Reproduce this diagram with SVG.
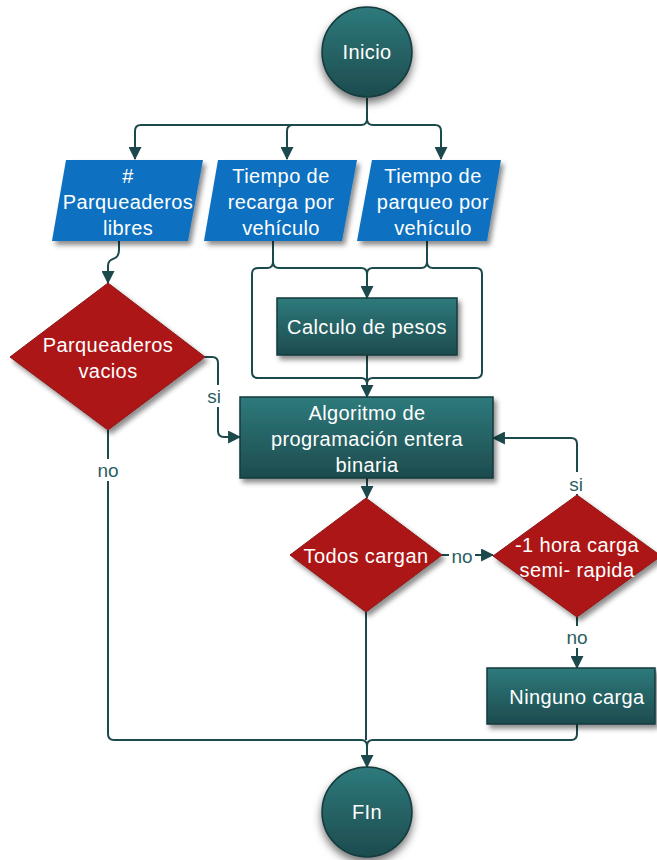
<svg xmlns="http://www.w3.org/2000/svg" width="657" height="860" viewBox="0 0 657 860">
  <defs>
    <linearGradient id="teal" x1="0" y1="0" x2="0" y2="1">
      <stop offset="0" stop-color="#2e7a7c"/>
      <stop offset="1" stop-color="#1d4b4e"/>
    </linearGradient>
    <filter id="shadow" x="-20%" y="-20%" width="150%" height="160%">
      <feDropShadow dx="3" dy="4" stdDeviation="2.5" flood-color="#000" flood-opacity="0.45"/>
    </filter>
    <filter id="glow" x="-30%" y="-30%" width="160%" height="170%">
      <feDropShadow dx="0" dy="5" stdDeviation="4" flood-color="#000" flood-opacity="0.55"/>
    </filter>
    <marker id="arrow" viewBox="0 0 12 12" refX="11" refY="6" markerWidth="13" markerHeight="13" markerUnits="userSpaceOnUse" orient="auto">
      <path d="M0,0 L12,6 L0,12 Z" fill="#1c4a4c"/>
    </marker>
    <style>
      .proc { fill: url(#teal); stroke: #163a3c; stroke-width: 1.5; filter: url(#shadow); }
      .term { fill: url(#teal); stroke: #163a3c; stroke-width: 1.5; filter: url(#glow); }
      .data { fill: #0a6fc0; filter: url(#shadow); }
      .dec { fill: #ad1717; stroke: #8c1616; stroke-width: 1; filter: url(#shadow); }
      .txt { font-family: "Liberation Sans", Arial, sans-serif; font-size: 20px; fill: #ffffff; text-anchor: middle; dominant-baseline: central; letter-spacing: 0.4px; }
      .lbl { font-family: "Liberation Sans", Arial, sans-serif; font-size: 19px; fill: #2b5f62; text-anchor: middle; dominant-baseline: central; }
      .wire { fill: none; stroke: #1c4a4c; stroke-width: 2; }
      .gap { fill: #ffffff; }
    </style>
  </defs>

  <rect width="657" height="860" fill="#ffffff"/>

  <!-- connectors -->
  <g id="connectors">
    <!-- start fan-out to the three inputs -->
    <path class="wire" d="M367,98 V119 Q367,125 361,125 H141 Q135,125 135,131 V159" marker-end="url(#arrow)"/>
    <path class="wire" d="M293,125 Q287,125 287,131 V159" marker-end="url(#arrow)"/>
    <path class="wire" d="M367,119 Q367,125 373,125 H435 Q441,125 441,131 V159" marker-end="url(#arrow)"/>

    <!-- free spaces to decision -->
    <path class="wire" d="M119,241 V250 C119,262 108,256 108,266 V283" marker-end="url(#arrow)"/>

    <!-- inputs into weight calculation -->
    <path class="wire" d="M273,241 V262 Q273,268 279,268 H361 Q367,268 367,274 V298" marker-end="url(#arrow)"/>
    <path class="wire" d="M427,241 V262 Q427,268 421,268 H373 Q367,268 367,274"/>
    <!-- inputs bypassing straight to the optimizer -->
    <path class="wire" d="M273,262 Q273,268 267,268 H258 Q252,268 252,274 V372 Q252,378 258,378 H361 Q367,378 367,384"/>
    <path class="wire" d="M427,262 Q427,268 433,268 H476 Q482,268 482,274 V372 Q482,378 476,378 H373 Q367,378 367,384"/>
    <path class="wire" d="M367,355 V397" marker-end="url(#arrow)"/>

    <!-- decision "si" into optimizer -->
    <path class="wire" d="M205,357 H212 Q218,357 218,363 V431 Q218,437 224,437 H240" marker-end="url(#arrow)"/>
    <!-- decision "no" down to end -->
    <path class="wire" d="M108,430 V734 Q108,740 114,740 H361 Q367,740 367,746 V767" marker-end="url(#arrow)"/>

    <!-- optimizer to check -->
    <path class="wire" d="M367,478 V498" marker-end="url(#arrow)"/>
    <path class="wire" d="M366,612 V740"/>
    <path class="wire" d="M442,555 H493" marker-end="url(#arrow)"/>
    <path class="wire" d="M577,495 V444 Q577,438 571,438 H493" marker-end="url(#arrow)"/>
    <path class="wire" d="M577,617 V668" marker-end="url(#arrow)"/>
    <path class="wire" d="M577,724 V734 Q577,740 571,740 H373 Q367,740 367,746"/>

    <!-- branch labels -->
    <rect class="gap" x="204" y="385" width="20" height="22"/>
    <text class="lbl" x="214" y="396">si</text>
    <rect class="gap" x="95" y="459" width="26" height="22"/>
    <text class="lbl" x="108" y="470">no</text>
    <rect class="gap" x="449" y="545" width="26" height="22"/>
    <text class="lbl" x="462" y="556">no</text>
    <rect class="gap" x="566" y="472" width="22" height="22"/>
    <text class="lbl" x="576" y="484">si</text>
    <rect class="gap" x="564" y="626" width="26" height="22"/>
    <text class="lbl" x="577" y="637">no</text>
  </g>

  <g id="inicio">
    <circle class="term" cx="367" cy="52" r="45"/>
    <text class="txt" x="367" y="52">Inicio</text>
  </g>

  <g id="parqueaderos-libres">
    <polygon class="data" points="66,160 203,160 188,241 52,241"/>
    <text class="txt" x="128" y="176">#</text>
    <text class="txt" x="128" y="202">Parqueaderos</text>
    <text class="txt" x="128" y="228">libres</text>
  </g>

  <g id="tiempo-recarga">
    <polygon class="data" points="218,160 357,160 342,241 204,241"/>
    <text class="txt" x="281" y="176">Tiempo de</text>
    <text class="txt" x="281" y="202">recarga por</text>
    <text class="txt" x="281" y="228">vehículo</text>
  </g>

  <g id="tiempo-parqueo">
    <polygon class="data" points="372,160 501,160 487,241 357,241"/>
    <text class="txt" x="433" y="176">Tiempo de</text>
    <text class="txt" x="433" y="202">parqueo por</text>
    <text class="txt" x="433" y="228">vehículo</text>
  </g>

  <g id="parqueaderos-vacios">
    <polygon class="dec" points="108,283 205,357 108,430 10,357"/>
    <text class="txt" x="108" y="345">Parqueaderos</text>
    <text class="txt" x="108" y="371">vacios</text>
  </g>

  <g id="calculo-pesos">
    <rect class="proc" x="277" y="298" width="180" height="57"/>
    <text class="txt" x="367" y="327">Calculo de pesos</text>
  </g>

  <g id="algoritmo">
    <rect class="proc" x="240" y="397" width="253" height="81"/>
    <text class="txt" x="367" y="413">Algoritmo de</text>
    <text class="txt" x="367" y="439">programación entera</text>
    <text class="txt" x="367" y="465">binaria</text>
  </g>

  <g id="todos-cargan">
    <polygon class="dec" points="366,498 442,555 366,612 290,555"/>
    <text class="txt" x="366" y="556">Todos cargan</text>
  </g>

  <g id="carga-semi-rapida">
    <polygon class="dec" points="577,495 661,556 577,617 493,556"/>
    <text class="txt" x="577" y="545">-1 hora carga</text>
    <text class="txt" x="577" y="570">semi- rapida</text>
  </g>

  <g id="ninguno-carga">
    <rect class="proc" x="487" y="668" width="168" height="56"/>
    <text class="txt" x="577" y="697">Ninguno carga</text>
  </g>

  <g id="fin">
    <circle class="term" cx="367" cy="812" r="45"/>
    <text class="txt" x="367" y="812">FIn</text>
  </g>
</svg>
